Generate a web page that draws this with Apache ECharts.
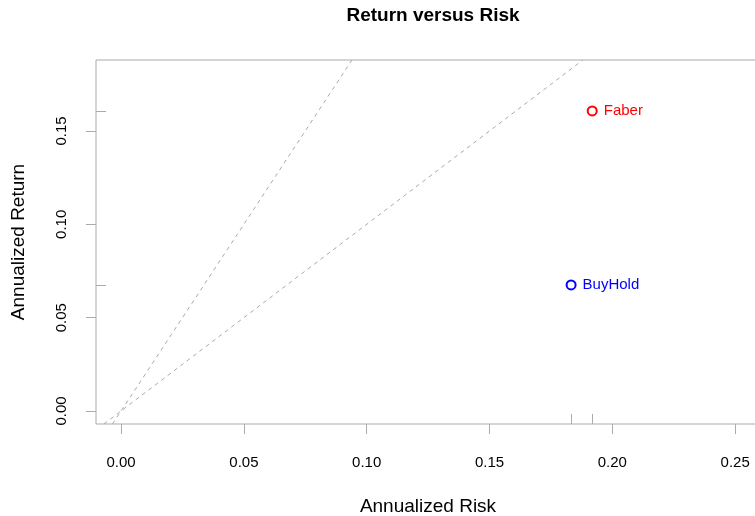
<!DOCTYPE html>
<html>
<head>
<meta charset="utf-8">
<script src="https://cdn.jsdelivr.net/npm/echarts@6/dist/echarts.min.js"></script>
<style>
  html, body { margin: 0; padding: 0; background: #fff; }
  #riskChart { width: 755px; height: 516px; }
</style>
</head>
<body>
<div id="riskChart"></div>
<script>
// portfolios
const names = ['Faber', 'BuyHold'];
const risk = [0.1918, 0.1832];
const ret = [0.1607, 0.0675];
const colors = ['#ff0000', '#0000ff'];

// sharpe ratio guide lines (through origin)
const sharpeSlopes = [1, 2];

// tick labels
const xTicks = [0, 0.05, 0.10, 0.15, 0.20, 0.25];
const yTicks = [0, 0.05, 0.10, 0.15];

const xMin = -0.0102;
const xMax = 0.2601;
const yMin = -0.00697;
const yMax = 0.188;

const boxColor = '#aaaaaa';
const font = 'Liberation Sans, Arial, sans-serif';

const chart = echarts.init(document.getElementById('riskChart'));

const sharpeSeries = sharpeSlopes.map((s) => ({
  type: 'line',
  silent: true,
  symbol: 'none',
  xAxisIndex: 0,
  yAxisIndex: 0,
  lineStyle: { color: boxColor, width: 1, type: [4, 4] },
  data: [[yMin / s, yMin], [yMax / s, yMax]]
}));

const pointSeries = names.map((n, i) => ({
  type: 'scatter',
  name: n,
  xAxisIndex: 0,
  yAxisIndex: 0,
  symbol: 'emptyCircle',
  symbolSize: 9,
  itemStyle: { color: colors[i], borderColor: colors[i], borderWidth: 1.1, opacity: 1 },
  label: {
    show: true,
    position: 'right',
    distance: 6,
    formatter: n,
    color: colors[i],
    fontSize: 15,
    fontFamily: font
  },
  data: [[risk[i], ret[i]]]
}));

const option = {
  animation: false,
  backgroundColor: '#fff',
  title: {
    text: 'Return versus Risk',
    left: 428,
    top: 1,
    textAlign: 'center',
    textStyle: { fontSize: 19, fontWeight: 'bold', color: '#000', fontFamily: font }
  },
  grid: {
    left: 96,
    top: 60,
    width: 664,
    height: 364,
    outerBoundsMode: 'none',
    containLabel: false,
    show: true,
    borderColor: boxColor,
    borderWidth: 1,
    backgroundColor: 'transparent'
  },
  xAxis: [
    {
      type: 'value',
      min: xMin,
      max: xMax,
      position: 'bottom',
      axisLine: { show: false, onZero: false },
      splitLine: { show: false },
      axisTick: { show: true, length: 10, customValues: xTicks, lineStyle: { color: boxColor } },
      axisLabel: {
        customValues: xTicks,
        formatter: (v) => v.toFixed(2),
        margin: 31,
        fontSize: 15,
        color: '#000',
        fontFamily: font
      },
      name: 'Annualized Risk',
      nameLocation: 'middle',
      nameGap: 73,
      nameTextStyle: { fontSize: 19, color: '#000', fontFamily: font }
    },
    {
      // rug marks for risk
      type: 'value',
      min: xMin,
      max: xMax,
      position: 'bottom',
      axisLine: { show: false, onZero: false },
      splitLine: { show: false },
      axisTick: { show: true, inside: true, length: 10, customValues: risk, lineStyle: { color: boxColor } },
      axisLabel: { show: false }
    }
  ],
  yAxis: [
    {
      type: 'value',
      min: yMin,
      max: yMax,
      position: 'left',
      axisLine: { show: false, onZero: false },
      splitLine: { show: false },
      axisTick: { show: true, length: 10, customValues: yTicks, lineStyle: { color: boxColor } },
      axisLabel: {
        customValues: yTicks,
        formatter: (v) => v.toFixed(2),
        rotate: 90,
        margin: 27,
        fontSize: 15,
        color: '#000',
        fontFamily: font
      },
      name: 'Annualized Return',
      nameLocation: 'middle',
      nameGap: 68,
      nameTextStyle: { fontSize: 19, color: '#000', fontFamily: font }
    },
    {
      // rug marks for return
      type: 'value',
      min: yMin,
      max: yMax,
      position: 'left',
      axisLine: { show: false, onZero: false },
      splitLine: { show: false },
      axisTick: { show: true, inside: true, length: 10, customValues: ret, lineStyle: { color: boxColor } },
      axisLabel: { show: false }
    }
  ],
  series: sharpeSeries.concat(pointSeries)
};

chart.setOption(option);
</script>
</body>
</html>
